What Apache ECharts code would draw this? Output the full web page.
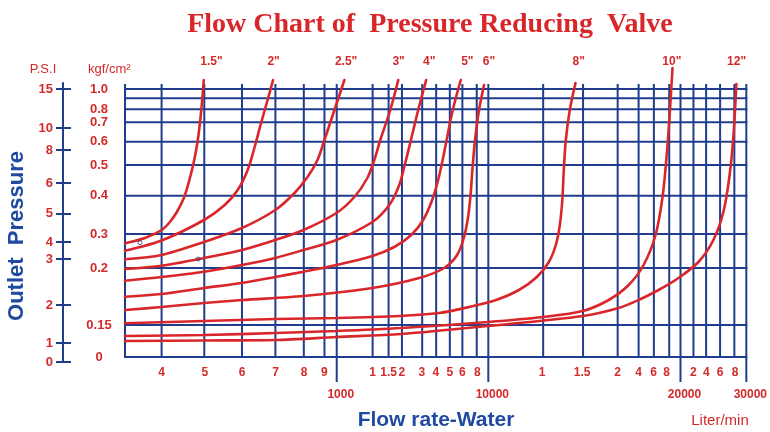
<!DOCTYPE html>
<html><head><meta charset="utf-8">
<script src="https://cdn.jsdelivr.net/npm/echarts@6/dist/echarts.min.js"></script>
<style>html,body{margin:0;padding:0;background:#fff}#c{width:770px;height:432px}</style>
</head><body><div id="c"></div>
<script>
const RED = '#d9262b', LRED = '#d42a2a', NAVY = '#1f3d8c', BLUE = '#1f4aa0';
// Axis units: x = position along the (hand drawn) flow scale, y = position along the pressure scale
const X_MAX = 623, Y_MAX = 273, PSI_MAX = 279;

const vGridPos = [0, 36.7, 79.5, 117.3, 150.8, 179.3, 200, 212.3, 248.3, 264.3, 277.7, 298, 312, 325.7, 338.3, 352.7, 364.3, 419.3, 459.3, 494, 515, 530.3, 545.7, 557, 570, 582.7, 596.7, 611, 623];
const vGridLong = [212.3, 364.3, 557, 623];
const hGridPos = [268, 258.7, 247.7, 234.7, 215.3, 192, 161.3, 123, 89, 32, 0];

const kgfLabels = ['1.0', '0.8', '0.7', '0.6', '0.5', '0.4', '0.3', '0.2', '0.15', '0'];
const kgfPos = [268, 247.7, 234.7, 215.3, 192, 161.3, 123, 89, 32, 0];

const psiLabels = ['15', '10', '8', '6', '5', '4', '3', '2', '1', '0'];
const psiPos = [273, 234, 212, 179, 148.5, 120, 103, 57, 19, 0];

const flowMinorLabels = ['4', '5', '6', '7', '8', '9', '1', '1.5', '2', '3', '4', '5', '6', '8', '1', '1.5', '2', '4', '6', '8', '2', '4', '6', '8'];
const flowMinorPos = [36.7, 80, 117.5, 151, 179.5, 200, 248.3, 264.3, 277.7, 297.7, 311.7, 325.7, 338.3, 353.3, 418.3, 458.3, 494, 515, 530, 543, 570, 583, 596.7, 611.7];
const flowMajorLabels = ['1000', '10000', '20000', '30000'];
const flowMajorPos = [212.3, 364.3, 557, 623];

const sizeLabels = ['1.5"', '2"', '2.5"', '3"', '4"', '5"', '6"', '8"', '10"', '12"'];
const sizeLabelPos = [86.7, 149, 221.7, 274.3, 305, 343.3, 365, 455, 548.3, 613.3];

const curve15 = [[0,113.7],[20,119],[36.7,127],[45,135],[52,145],[59,159],[64,175],[69,195],[73,217],[76.5,247],[79,277]];
const curve2  = [[0,106.3],[36.7,116.5],[79.3,137],[100,152],[113,167],[123,187],[130,210],[137,236],[143,257],[148.5,277]];
const curve25 = [[0,97.7],[36.7,102],[79.3,115],[117.3,129],[150.7,147],[170,164],[183,180],[193,197],[200,217],[210,247],[220,277]];
const curve3  = [[0,88],[36.7,91.3],[79.3,99],[117.3,107],[150.7,117],[179,127],[212,144],[230,160],[243,179],[250,197],[256,217],[266,247],[274,277]];
const curve4  = [[0,76.3],[36.7,80],[79.3,85.3],[117.3,92],[150.7,99],[179,107],[212,117],[248,135],[265,152],[275,172],[281,194],[286.7,217],[294,247],[302,277]];
const curve5  = [[0,60.3],[36.7,63],[79.3,69],[117.3,74],[150.7,80],[179,85.3],[212,92],[248,101],[270,110],[287,122],[299,137],[308,157],[314,177],[318.5,197],[322.5,217],[327.5,242],[332.5,262],[336.7,277]];
const curve6  = [[0,47],[36.7,50],[79.3,54],[117.3,57],[179,61],[248,69],[295,79],[320,89],[333,102],[340,120],[344,140],[346.5,162],[348.3,187],[351,217],[355,247],[360,272]];
const curve8  = [[0,33.7],[79,36],[151,38],[212,39],[275,41],[315,44],[345,50],[372,57],[395,67],[413,80],[425,95],[432,112],[436,132],[438.5,157],[440,187],[442,217],[446,247],[451.7,274]];
const curve10 = [[0,21],[80,22],[151,24],[212,26],[277,29],[364,35],[419,40],[459,46],[485,57],[505,72],[520,92],[532,122],[539,160],[543,200],[546,240],[549,289]];
const curve12 = [[0,16],[80,16.5],[151,17],[212,20],[277,23],[364,31],[459,41],[495,49],[515,57],[535,67],[555,79],[575,95],[590,117],[600,145],[606,180],[610,220],[613,273]];
const curves = [curve15, curve2, curve25, curve3, curve4, curve5, curve6, curve8, curve10, curve12];
const marks = [[15, 114.3], [73.3, 98]];

function lookup(pos, labels, v) {
  const i = pos.findIndex(p => Math.abs(p - v) < 0.05);
  return i >= 0 ? labels[i] : '';
}
const lblStyle = { color: LRED, fontWeight: 'bold', fontFamily: 'Liberation Sans', fontSize: 12 };

const chart = echarts.init(document.getElementById('c'), null, { renderer: 'canvas' });
const series = [
  {
    type: 'custom', xAxisIndex: 0, yAxisIndex: 0, silent: true, z: 1,
    encode: { x: 0, y: 1 },
    data: vGridPos.map(x => [x, vGridLong.includes(x) ? 1 : 0]),
    renderItem: (params, api) => {
      const x = api.value(0);
      const p1 = api.coord([x, Y_MAX]);
      const p2 = api.coord([x, 0]);
      return { type: 'line', shape: { x1: p1[0], y1: p1[1], x2: p2[0], y2: p2[1] + (api.value(1) ? 25 : 0) },
               style: { stroke: NAVY, lineWidth: 2 } };
    }
  },
  {
    type: 'custom', xAxisIndex: 0, yAxisIndex: 0, silent: true, z: 1,
    encode: { x: 0, y: 1 },
    data: hGridPos.map(y => [0, y]),
    renderItem: (params, api) => {
      const y = api.value(1);
      const p1 = api.coord([0, y]);
      const p2 = api.coord([X_MAX, y]);
      return { type: 'line', shape: { x1: p1[0] - 1, y1: p1[1], x2: p2[0] + 1, y2: p2[1] },
               style: { stroke: NAVY, lineWidth: 2 } };
    }
  },
  ...curves.map((c, i) => ({
    type: 'line', name: sizeLabels[i], data: c, xAxisIndex: 0, yAxisIndex: 0,
    smooth: 0.3, showSymbol: false, clip: false, z: 3, silent: true,
    lineStyle: { color: RED, width: 2.6, cap: 'round' }
  })),
  {
    type: 'scatter', data: marks, xAxisIndex: 0, yAxisIndex: 0, symbol: 'circle', symbolSize: 4, z: 4, silent: true,
    itemStyle: { color: 'rgba(0,0,0,0)', borderColor: NAVY, borderWidth: 1 }
  }
];

chart.setOption({
  animation: false,
  backgroundColor: '#fff',
  title: {
    text: 'Flow Chart of  Pressure Reducing  Valve', left: 425, top: 6, textAlign: 'center',
    textStyle: { fontFamily: 'Liberation Serif', fontWeight: 'bold', fontSize: 28, color: RED }
  },
  grid: [
    { left: 125, right: 22, top: 84, bottom: 75 },
    { left: 63, width: 1, top: 83, bottom: 70 }
  ],
  xAxis: [
    { gridIndex: 0, type: 'value', min: 0, max: X_MAX, position: 'bottom',
      axisLine: { show: false }, axisTick: { show: false }, splitLine: { show: false },
      axisLabel: Object.assign({ customValues: flowMinorPos, margin: 10, formatter: v => lookup(flowMinorPos, flowMinorLabels, v) }, lblStyle) },
    { gridIndex: 0, type: 'value', min: 0, max: X_MAX, position: 'bottom',
      axisLine: { show: false }, axisTick: { show: false }, splitLine: { show: false },
      axisLabel: Object.assign({ customValues: flowMajorPos, margin: 32, padding: [0, 0, 0, 8], formatter: v => lookup(flowMajorPos, flowMajorLabels, v) }, lblStyle) },
    { gridIndex: 0, type: 'value', min: 0, max: X_MAX, position: 'top',
      axisLine: { show: false }, axisTick: { show: false }, splitLine: { show: false },
      axisLabel: Object.assign({ customValues: sizeLabelPos, margin: 16, formatter: v => lookup(sizeLabelPos, sizeLabels, v) }, lblStyle) },
    { gridIndex: 1, type: 'value', show: false, min: 0, max: 1 }
  ],
  yAxis: [
    { gridIndex: 0, type: 'value', min: 0, max: Y_MAX,
      axisLine: { show: false }, axisTick: { show: false }, splitLine: { show: false },
      axisLabel: Object.assign({}, lblStyle, { fontSize: 13, customValues: kgfPos, margin: 26, align: 'center', formatter: v => lookup(kgfPos, kgfLabels, v) }) },
    { gridIndex: 1, type: 'value', min: 0, max: PSI_MAX, position: 'left',
      axisLine: { show: true, lineStyle: { color: NAVY, width: 2 } },
      axisTick: { show: true, customValues: psiPos, length: 7, lineStyle: { color: NAVY, width: 2 } },
      splitLine: { show: false },
      axisLabel: Object.assign({}, lblStyle, { fontSize: 13, customValues: psiPos, margin: 10, formatter: v => lookup(psiPos, psiLabels, v) }) },
    { gridIndex: 1, type: 'value', min: 0, max: PSI_MAX, position: 'left',
      axisLine: { show: false },
      axisTick: { show: true, inside: true, customValues: psiPos, length: 8, lineStyle: { color: NAVY, width: 2 } },
      splitLine: { show: false }, axisLabel: { show: false } }
  ],
  graphic: [
    { type: 'text', x: 17, y: 236, rotation: Math.PI / 2,
      style: { text: 'Outlet  Pressure', fill: BLUE, font: 'bold 22px "Liberation Sans"', align: 'center', verticalAlign: 'middle', textAlign: 'center', textVerticalAlign: 'middle' } },
    { type: 'text', x: 43, y: 69,
      style: { text: 'P.S.I', fill: LRED, font: '13px "Liberation Sans"', align: 'center', verticalAlign: 'middle', textAlign: 'center', textVerticalAlign: 'middle' } },
    { type: 'text', x: 88, y: 69,
      style: { text: 'kgf/cm²', fill: LRED, font: '13px "Liberation Sans"', align: 'left', verticalAlign: 'middle', textAlign: 'left', textVerticalAlign: 'middle' } },
    { type: 'text', x: 436, y: 420,
      style: { text: 'Flow rate-Water', fill: BLUE, font: 'bold 21px "Liberation Sans"', align: 'center', verticalAlign: 'middle', textAlign: 'center', textVerticalAlign: 'middle' } },
    { type: 'text', x: 720, y: 421,
      style: { text: 'Liter/min', fill: LRED, font: '15px "Liberation Sans"', align: 'center', verticalAlign: 'middle', textAlign: 'center', textVerticalAlign: 'middle' } }
  ],
  series: series
});
</script></body></html>
